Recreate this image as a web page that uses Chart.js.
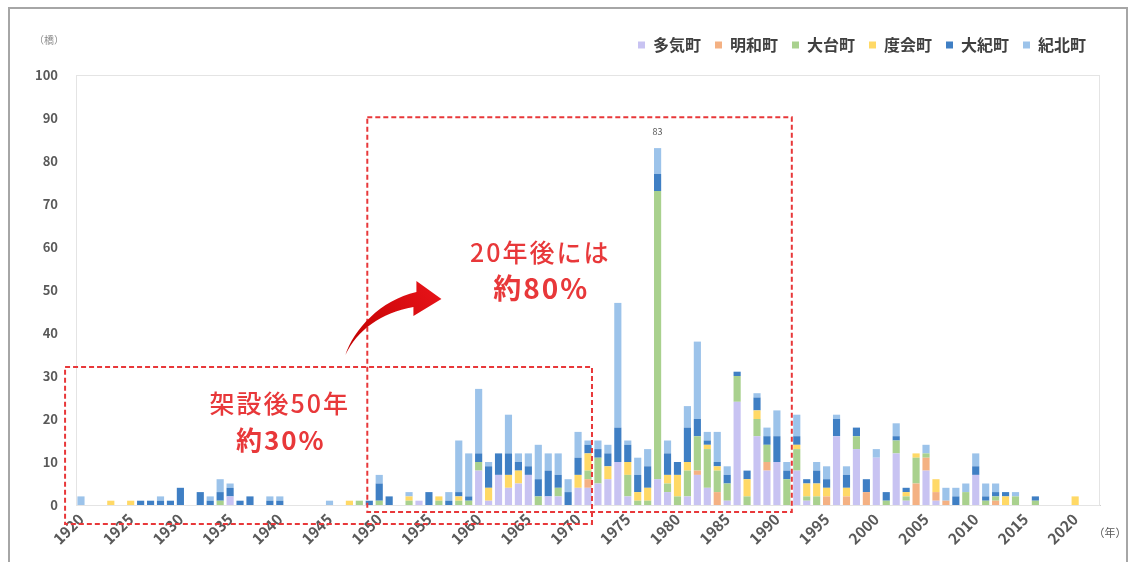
<!DOCTYPE html>
<html lang="ja">
<head>
<meta charset="UTF-8">
<title>架設年度別の橋梁数</title>
<script src="https://cdn.jsdelivr.net/npm/chart.js@4.4.1/dist/chart.umd.min.js"></script>
<style>
  html, body { margin: 0; padding: 0; background: #fff; }
  #wrap { position: relative; width: 1134px; height: 562px; overflow: hidden; }
  #frame {
    position: absolute; left: 8px; top: 7px; width: 1120px; height: 620px;
    border: 2px solid #a6a6a6; box-sizing: border-box;
  }
  #bridges { position: absolute; left: 0; top: 0; }
</style>
</head>
<body>
<div id="wrap">
  <div id="frame"></div>
  <canvas id="bridges" width="1134" height="562"></canvas>
</div>
<script>
// 架設年（1920〜2022年）
const years = [];
for (let y = 1920; y <= 2022; y++) years.push(String(y));

const towns = ['多気町', '明和町', '大台町', '度会町', '大紀町', '紀北町'];
const townColors = ['#c8c3f2', '#f4b183', '#a9d18e', '#ffd966', '#3f7fc4', '#9cc3ea'];

// 町ごとの架設橋梁数（1行＝10年）
const taki = [
  0, 0, 0, 0, 0, 0, 0, 0, 0, 0,
  0, 0, 0, 0, 0, 2, 0, 0, 0, 0,
  0, 0, 0, 0, 0, 0, 0, 0, 0, 0,
  0, 0, 0, 0, 1, 0, 0, 0, 0, 0,
  8, 1, 7, 4, 5, 7, 0, 2, 2, 0,
  4, 4, 5, 6, 10, 2, 0, 0, 6, 3,
  0, 2, 7, 4, 0, 1, 24, 0, 16, 8,
  10, 0, 8, 1, 0, 0, 16, 0, 13, 0,
  11, 0, 12, 1, 0, 8, 1, 0, 0, 0,
  7, 0, 0, 0, 0, 0, 0, 0, 0, 0,
  0, 0, 0
];
const meiwa = [
  0, 0, 0, 0, 0, 0, 0, 0, 0, 0,
  0, 0, 0, 0, 0, 0, 0, 0, 0, 0,
  0, 0, 0, 0, 0, 0, 0, 0, 0, 0,
  0, 0, 0, 0, 0, 0, 0, 0, 0, 0,
  0, 0, 0, 0, 0, 0, 0, 0, 0, 0,
  0, 2, 0, 0, 0, 0, 0, 0, 0, 0,
  0, 0, 1, 0, 3, 0, 0, 0, 0, 2,
  0, 0, 0, 0, 0, 2, 0, 2, 0, 3,
  0, 0, 0, 0, 5, 3, 2, 1, 0, 0,
  0, 0, 1, 0, 0, 0, 0, 0, 0, 0,
  0, 0, 0
];
const odai = [
  0, 0, 0, 0, 0, 0, 0, 0, 0, 0,
  0, 0, 0, 0, 1, 0, 0, 0, 0, 0,
  0, 0, 0, 0, 0, 0, 0, 0, 1, 0,
  1, 0, 0, 1, 0, 0, 1, 0, 1, 1,
  2, 0, 0, 0, 0, 0, 2, 0, 2, 0,
  0, 2, 6, 0, 0, 5, 1, 1, 67, 2,
  2, 6, 8, 9, 5, 4, 6, 2, 4, 4,
  0, 6, 5, 1, 2, 0, 0, 0, 3, 0,
  0, 1, 3, 1, 6, 1, 0, 0, 0, 3,
  0, 1, 1, 0, 2, 0, 1, 0, 0, 0,
  0, 0, 0
];
const watarai = [
  0, 0, 0, 1, 0, 1, 0, 0, 0, 0,
  0, 0, 0, 0, 0, 0, 0, 0, 0, 0,
  0, 0, 0, 0, 0, 0, 0, 1, 0, 0,
  0, 0, 0, 1, 0, 0, 1, 0, 1, 0,
  0, 3, 0, 3, 3, 0, 0, 0, 0, 0,
  3, 4, 0, 3, 0, 3, 2, 3, 0, 2,
  5, 2, 0, 1, 1, 0, 0, 4, 2, 0,
  0, 0, 1, 3, 3, 2, 0, 2, 0, 0,
  0, 0, 0, 1, 1, 0, 3, 0, 0, 0,
  0, 0, 0, 2, 0, 0, 0, 0, 0, 0,
  2, 0, 0
];
const taiki = [
  0, 0, 0, 0, 0, 0, 1, 1, 1, 1,
  4, 0, 3, 1, 2, 2, 1, 2, 0, 1,
  1, 0, 0, 0, 0, 0, 0, 0, 0, 1,
  4, 2, 0, 0, 0, 3, 0, 1, 1, 1,
  2, 5, 5, 5, 2, 2, 4, 6, 3, 3,
  4, 2, 2, 3, 8, 4, 4, 5, 4, 5,
  3, 8, 4, 1, 1, 2, 1, 2, 3, 2,
  6, 2, 2, 1, 3, 2, 4, 3, 2, 3,
  0, 2, 1, 1, 0, 0, 0, 0, 2, 0,
  2, 1, 1, 1, 0, 0, 1, 0, 0, 0,
  0, 0, 0
];
const kihoku = [
  2, 0, 0, 0, 0, 0, 0, 0, 1, 0,
  0, 0, 0, 1, 3, 1, 0, 0, 0, 1,
  1, 0, 0, 0, 0, 1, 0, 0, 0, 0,
  2, 0, 0, 1, 0, 0, 0, 2, 12, 10,
  15, 1, 0, 9, 2, 3, 8, 4, 5, 3,
  6, 1, 2, 2, 29, 1, 4, 4, 6, 3,
  0, 5, 18, 2, 7, 2, 0, 0, 1, 2,
  6, 2, 5, 0, 2, 3, 1, 2, 0, 0,
  2, 0, 3, 0, 0, 2, 0, 3, 2, 2,
  3, 3, 2, 0, 1, 0, 0, 0, 0, 0,
  0, 0, 0
];
const townSeries = [taki, meiwa, odai, watarai, taiki, kihoku];

// 最多年の棒に数値を表示する
const peakYear = '1978';

const yTicks = [0, 10, 20, 30, 40, 50, 60, 70, 80, 90, 100];

const FONT = '"Noto Sans CJK JP", "Noto Sans", sans-serif';
const RED = '#e8383a';

// 注記（枠はカテゴリ位置と値で指定）
const boxes = [
  { x0: 28.8, x1: 71.5, y0: 90.2, y1: -1.6 },
  { x0: -1.6, x1: 51.4, y0: 32.1, y1: -4.4 }
];
const notes = [
  { text: '20年後には', x: 46.2, y: 58.8, weight: '500', size: 25 },
  { text: '約80%', x: 46.3, y: 50.4, weight: 'bold', size: 28 },
  { text: '架設後50年', x: 20.0, y: 23.7, weight: '500', size: 25 },
  { text: '約30%', x: 20.1, y: 15.1, weight: 'bold', size: 26 }
];
const arrowTail = { x: 26.6, y: 34.9 };

// 凡例とグラフ領域の間隔を固定する
const legendSpacing = {
  id: 'legendSpacing',
  beforeInit(chart) {
    const fit = chart.legend.fit;
    chart.legend.fit = function () {
      fit.call(this);
      this.height = 52;
    };
  }
};

const decorations = {
  id: 'decorations',
  beforeDatasetsDraw(chart) {
    const { ctx, chartArea: a } = chart;
    ctx.save();
    ctx.strokeStyle = '#e4e4e4';
    ctx.lineWidth = 1;
    ctx.strokeRect(a.left + 0.5, a.top + 0.5, a.right - a.left - 1, a.bottom - a.top);
    ctx.restore();
  },
  afterDraw(chart) {
    const { ctx, scales: { x, y } } = chart;
    ctx.save();

    // 単位
    ctx.fillStyle = '#8c8c8c';
    ctx.font = `10px ${FONT}`;
    ctx.textAlign = 'center';
    ctx.textBaseline = 'middle';
    ctx.fillText('（橋）', 49, 40);
    ctx.fillStyle = '#595959';
    ctx.font = `11px ${FONT}`;
    ctx.fillText('（年）', 1110, 533);

    // 最多年の合計値
    const idx = years.indexOf(peakYear);
    const total = townSeries.reduce((s, arr) => s + arr[idx], 0);
    const topBar = chart.getDatasetMeta(townSeries.length - 1).data[idx];
    ctx.fillStyle = '#595959';
    ctx.font = `9px ${FONT}`;
    ctx.fillText(String(total), topBar.x, topBar.y - 17);

    // 破線の枠
    ctx.strokeStyle = RED;
    ctx.lineWidth = 2;
    ctx.setLineDash([5, 3]);
    boxes.forEach(b => {
      const l = x.getPixelForValue(b.x0), r = x.getPixelForValue(b.x1);
      const t = y.getPixelForValue(b.y0), btm = y.getPixelForValue(b.y1);
      ctx.strokeRect(l, t, r - l, btm - t);
    });
    ctx.setLineDash([]);

    // 注記テキスト
    ctx.fillStyle = RED;
    ctx.letterSpacing = '2px';
    notes.forEach(n => {
      ctx.font = `${n.weight} ${n.size}px ${FONT}`;
      ctx.fillText(n.text, x.getPixelForValue(n.x), y.getPixelForValue(n.y));
    });
    ctx.letterSpacing = '0px';

    // 曲線矢印
    const tx = x.getPixelForValue(arrowTail.x);
    const ty = y.getPixelForValue(arrowTail.y);
    const grad = ctx.createLinearGradient(tx, ty, tx + 96, ty - 70);
    grad.addColorStop(0, '#c00000');
    grad.addColorStop(1, '#e8141a');
    ctx.fillStyle = grad;
    ctx.beginPath();
    ctx.moveTo(tx, ty);
    ctx.bezierCurveTo(tx + 8, ty - 25, tx + 35, ty - 55, tx + 71, ty - 63);
    ctx.lineTo(tx + 71, ty - 74);
    ctx.lineTo(tx + 96, ty - 56);
    ctx.lineTo(tx + 68, ty - 39);
    ctx.lineTo(tx + 68, ty - 48);
    ctx.bezierCurveTo(tx + 35, ty - 42, tx + 12, ty - 25, tx, ty);
    ctx.closePath();
    ctx.fill();

    ctx.restore();
  }
};

const ctx = document.getElementById('bridges').getContext('2d');
new Chart(ctx, {
  type: 'bar',
  data: {
    labels: years,
    datasets: towns.map((name, i) => ({
      label: name,
      data: townSeries[i],
      backgroundColor: townColors[i],
      borderWidth: 0,
      categoryPercentage: 1,
      barPercentage: 0.72
    }))
  },
  options: {
    responsive: false,
    animation: false,
    layout: { padding: { left: 14, right: 34, top: 23, bottom: 7 } },
    plugins: {
      tooltip: { enabled: false },
      legend: {
        position: 'top',
        align: 'end',
        labels: {
          boxWidth: 7,
          boxHeight: 7,
          padding: 14,
          color: '#404040',
          font: { family: FONT, size: 16, weight: 'bold' }
        }
      }
    },
    scales: {
      x: {
        stacked: true,
        grid: { display: false, drawTicks: false },
        border: { display: true, color: '#d0d0d0' },
        afterFit(scale) { scale.height = 50; },
        ticks: {
          autoSkip: false,
          minRotation: 45,
          maxRotation: 45,
          padding: 5,
          color: '#595959',
          font: { family: FONT, size: 15, weight: 'bold' },
          callback(value, i) {
            const yr = Number(years[i]);
            return yr % 5 === 0 && yr <= 2020 ? years[i] : '';
          }
        }
      },
      y: {
        stacked: true,
        min: 0,
        max: 100,
        afterFit(scale) { scale.width = 62; },
        afterBuildTicks(scale) { scale.ticks = yTicks.map(v => ({ value: v })); },
        grid: { display: false, drawTicks: false },
        border: { display: true, color: '#e4e4e4' },
        ticks: {
          padding: 18,
          color: '#595959',
          font: { family: FONT, size: 13, weight: 'bold' }
        }
      }
    }
  },
  plugins: [legendSpacing, decorations]
});
</script>
</body>
</html>
